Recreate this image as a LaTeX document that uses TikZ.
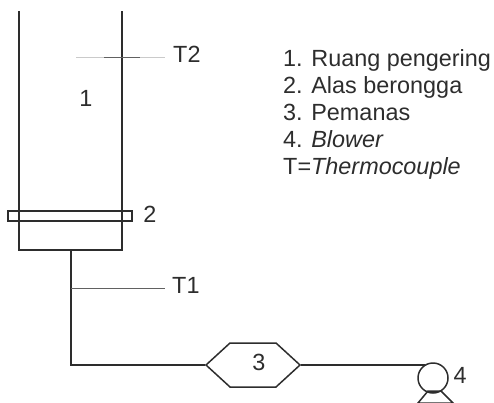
\documentclass[tikz,border=0pt]{standalone}
\usepackage{fontspec}
\setmainfont{Liberation Sans}
\usetikzlibrary{shapes.symbols, shapes.geometric}
\definecolor{ink}{RGB}{45,45,45}
\tikzstyle{tag} = [inner sep=0pt, text=ink, font=\fontsize{23.4}{27}\selectfont]
\tikzstyle{pipe} = [line width=1.5pt, draw=ink]
\tikzstyle{probe} = [line width=0.9pt, draw=ink!75]
\tikzstyle{plate} = [rectangle, line width=1.5pt, draw=ink, minimum width=124pt, minimum height=10pt, inner sep=0pt]
\tikzstyle{heater} = [signal, signal to=west and east, signal pointer angle=85, line width=1.5pt, draw=ink, minimum width=94pt, minimum height=44pt, inner sep=0pt]
\tikzstyle{blower} = [circle, line width=1.5pt, draw=ink, minimum size=30pt, inner sep=0pt]
\begin{document}
\begin{tikzpicture}[x=1pt, y=-1pt]
		\useasboundingbox (0,0) rectangle (494,403);
		
		% Nodes
		\node (floor) [plate] at (70,216) {};
		\node (hexa) [heater] at (253,365) {};
		\node (fan) [blower] at (433,378) {};
		\node (one) [tag] at (86,98) {1};
		\node (two) [tag] at (150,214) {2};
		\node (three) [tag] at (259,362) {3};
		\node (four) [tag] at (460,375) {4};
		\node (tone) [tag, anchor=west] at (172,285) {T1};
		\node (ttwo) [tag, anchor=west] at (173,54) {T2};
		\node (legend) [tag, anchor=north west, align=left] at (283,49) {1. Ruang pengering\\2. Alas berongga\\3. Pemanas\\4. \textit{Blower}\\T=\textit{Thermocouple}};
		
		% Points
		\coordinate (lefttop) at (19,11);
		\coordinate (leftbot) at (19,250);
		\coordinate (righttop) at (122,11);
		\coordinate (rightbot) at (122,250);
		\coordinate (neck) at (71,250);
		\coordinate (elbow) at (71,365);
		\coordinate (tap) at (71,288);
		\coordinate (tapend) at (165,288);
		\coordinate (inlet) at (425,365);
		\coordinate (probeleft) at (76,57);
		\coordinate (probein) at (104,57);
		\coordinate (probeout) at (140,57);
		\coordinate (proberight) at (165,57);
		
		% Lines
		\draw [pipe] (lefttop) -- (leftbot) -- (rightbot) -- (righttop);
		\draw [pipe] (neck) -- (elbow) -- (hexa.west);
		\draw [pipe] (hexa.east) -- (inlet);
		\draw [probe] (tap) -- (tapend);
		\draw [probe, draw=ink!25] (probeleft) -- (proberight);
		\draw [probe] (probein) -- (probeout);
		
		% Base of the blower
		\coordinate (baseleft) at (418,403);
		\coordinate (baseright) at (453,403);
		\draw [pipe] (baseleft) -- (428,391) -- (441,391) -- (baseright) -- cycle;
		
	\end{tikzpicture}
\end{document}
